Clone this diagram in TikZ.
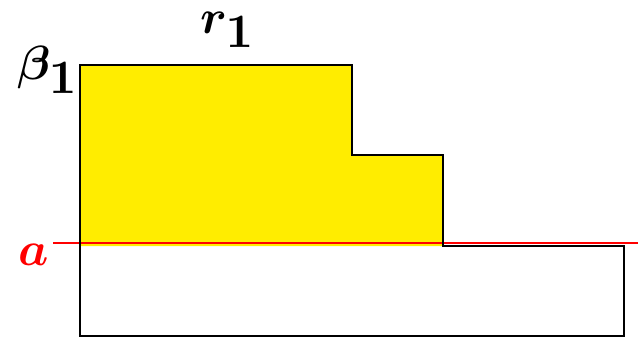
\documentclass[tikz,border=0pt]{standalone}
\usepackage{graphicx}
\usepackage{amsmath,amssymb}
\definecolor{fillyellow}{RGB}{255,237,0}
\definecolor{linered}{RGB}{255,0,0}
\newcommand{\biglbl}[1]{\scalebox{4.8}{\boldmath$#1$}}
\begin{document}
\begin{tikzpicture}[x=1pt,y=-1pt,
  lbl/.style={inner sep=0pt,anchor=base west},
  outline/.style={draw=black,line width=1.8pt,line join=miter},
  aline/.style={draw=linered,line width=1.5pt}]
\useasboundingbox (0,0) rectangle (638,337);
\fill[fillyellow] (80,65) -- (352,65) -- (352,155) -- (443,155) -- (443,246) -- (80,246) -- cycle;
\draw[aline] (53,243) -- (638,243);
\draw[outline] (80,336) -- (80,65) -- (352,65) -- (352,155) -- (443,155) -- (443,246) -- (624,246) -- (624,336) -- cycle;
\node[lbl] (r) at (200,34) {\biglbl{r_{\textstyle 1}}};
\node[lbl] (b) at (17,80) {\biglbl{\beta_{\textstyle 1}}};
\node[lbl,text=linered] (a) at (18,265) {\biglbl{a}};
\end{tikzpicture}
\end{document}
